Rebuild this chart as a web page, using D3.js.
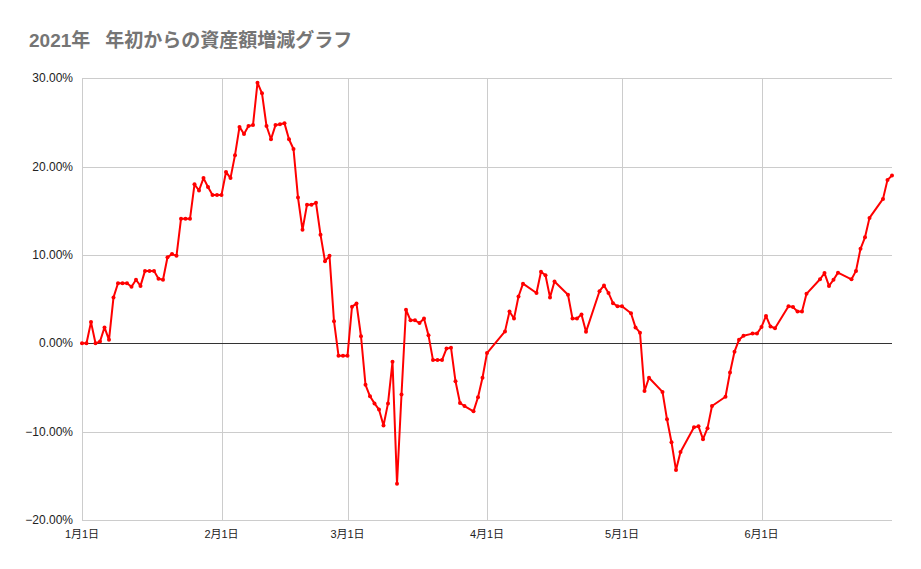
<!DOCTYPE html>
<html>
<head>
<meta charset="utf-8">
<script src="https://cdn.jsdelivr.net/npm/d3@7"></script>
<style>
  html, body { margin: 0; padding: 0; background: #fff; }
  svg { display: block; }
</style>
</head>
<body>
<svg id="chart" width="921" height="569"></svg>
<script>
const titleYear = "2021年";
const titleRest = "\u3000年初からの資産額増減グラフ";

const dates = [
  "2021-01-01","2021-01-02","2021-01-03","2021-01-04","2021-01-05","2021-01-06","2021-01-07","2021-01-08","2021-01-09","2021-01-10",
  "2021-01-11","2021-01-12","2021-01-13","2021-01-14","2021-01-15","2021-01-16","2021-01-17","2021-01-18","2021-01-19","2021-01-20",
  "2021-01-21","2021-01-22","2021-01-23","2021-01-24","2021-01-25","2021-01-26","2021-01-27","2021-01-28","2021-01-29","2021-01-30",
  "2021-01-31","2021-02-01","2021-02-02","2021-02-03","2021-02-04","2021-02-05","2021-02-06","2021-02-07","2021-02-08","2021-02-09",
  "2021-02-10","2021-02-11","2021-02-12","2021-02-13","2021-02-14","2021-02-15","2021-02-16","2021-02-17","2021-02-18","2021-02-19",
  "2021-02-20","2021-02-21","2021-02-22","2021-02-23","2021-02-24","2021-02-25","2021-02-26","2021-02-27","2021-02-28","2021-03-01",
  "2021-03-02","2021-03-03","2021-03-04","2021-03-05","2021-03-06","2021-03-07","2021-03-08","2021-03-09","2021-03-10","2021-03-11",
  "2021-03-12","2021-03-13","2021-03-14","2021-03-15","2021-03-16","2021-03-17","2021-03-18","2021-03-19","2021-03-20","2021-03-21",
  "2021-03-22","2021-03-23","2021-03-24","2021-03-25","2021-03-26","2021-03-27","2021-03-29","2021-03-30","2021-03-31","2021-04-01",
  "2021-04-05","2021-04-06","2021-04-07","2021-04-08","2021-04-09","2021-04-12","2021-04-13","2021-04-14","2021-04-15","2021-04-16",
  "2021-04-19","2021-04-20","2021-04-21","2021-04-22","2021-04-23","2021-04-26","2021-04-27","2021-04-28","2021-04-29","2021-04-30",
  "2021-05-01","2021-05-03","2021-05-04","2021-05-05","2021-05-06","2021-05-07","2021-05-10","2021-05-11","2021-05-12","2021-05-13",
  "2021-05-14","2021-05-17","2021-05-18","2021-05-19","2021-05-20","2021-05-21","2021-05-24","2021-05-25","2021-05-26","2021-05-27",
  "2021-05-28","2021-05-30","2021-05-31","2021-06-01","2021-06-02","2021-06-03","2021-06-04","2021-06-07","2021-06-08","2021-06-09",
  "2021-06-10","2021-06-11","2021-06-14","2021-06-15","2021-06-16","2021-06-17","2021-06-18","2021-06-21","2021-06-22","2021-06-23",
  "2021-06-24","2021-06-25","2021-06-28","2021-06-29","2021-06-30"
];

// percent change since start of year
const values = [
  0.0, 0.0, 2.4, 0.0, 0.2, 1.8, 0.4, 5.2, 6.8, 6.8,
  6.8, 6.4, 7.2, 6.5, 8.2, 8.2, 8.2, 7.3, 7.2, 9.75,
  10.1, 9.9, 14.1, 14.1, 14.1, 18.0, 17.3, 18.7, 17.7, 16.8,
  16.8, 16.8, 19.4, 18.7, 21.3, 24.5, 23.7, 24.6, 24.7, 29.5,
  28.3, 24.6, 23.1, 24.7, 24.8, 24.9, 23.1, 22.0, 16.5, 12.85,
  15.7, 15.7, 15.9, 12.3, 9.3, 9.9, 2.5, -1.4, -1.4, -1.4,
  4.15, 4.5, 0.8, -4.7, -6.0, -6.8, -7.5, -9.3, -6.8, -2.1,
  -15.9, -5.8, 3.8, 2.6, 2.6, 2.3, 2.8, 0.9, -1.9, -1.9,
  -1.9, -0.6, -0.5, -4.3, -6.75, -7.1, -7.7, -6.1, -3.9, -1.1,
  1.35, 3.6, 2.8, 5.3, 6.75, 5.7, 8.1, 7.7, 5.2, 7.0,
  5.5, 2.8, 2.8, 3.25, 1.3, 5.9, 6.55, 5.7, 4.55, 4.2,
  4.2, 3.4, 1.8, 1.2, -5.4, -3.9, -5.5, -8.6, -11.2, -14.35,
  -12.3, -9.5, -9.4, -10.85, -9.6, -7.1, -6.05, -3.3, -0.95, 0.4,
  0.85, 1.1, 1.1, 1.85, 3.1, 1.9, 1.7, 4.2, 4.1, 3.6,
  3.6, 5.6, 7.25, 7.95, 6.5, 7.2, 8.0, 7.25, 8.2, 10.7,
  12.0, 14.2, 16.35, 18.5, 19.0
];

const yTicks = [30, 20, 10, 0, -10, -20];
const xTickDates = ["2021-01-01","2021-02-01","2021-03-01","2021-04-01","2021-05-01","2021-06-01"];
const xDomain = ["2021-01-01","2021-06-30"];

const parse = d3.timeParse("%Y-%m-%d");
const data = dates.map((d, i) => ({ date: parse(d), value: values[i] }));

const svg = d3.select("#chart");
const plotLeft = 82, plotRight = 892, plotTop = 78.3, plotBottom = 520;

const x = d3.scaleTime().domain(xDomain.map(parse)).range([plotLeft, plotRight]);
const y = d3.scaleLinear().domain([-20, 30]).range([plotBottom, plotTop]);

const fontLatin = "'Liberation Sans', Arial, 'Noto Sans CJK JP', sans-serif";

// title
const t = svg.append("text")
  .attr("x", 29).attr("y", 47)
  .attr("font-family", fontLatin)
  .attr("font-size", 19).attr("font-weight", "bold")
  .attr("fill", "#757575");
t.append("tspan").text(titleYear);
t.append("tspan").attr("dx", -4).text(titleRest);

// horizontal gridlines
svg.append("g").selectAll("line").data(yTicks.filter(v => v !== 0)).join("line")
  .attr("x1", plotLeft).attr("x2", plotRight)
  .attr("y1", d => Math.round(y(d)) + 0.5).attr("y2", d => Math.round(y(d)) + 0.5)
  .attr("stroke", "#cccccc").attr("stroke-width", 1);

// vertical gridlines
svg.append("g").selectAll("line").data(xTickDates.map(parse)).join("line")
  .attr("x1", d => Math.round(x(d)) + 0.5).attr("x2", d => Math.round(x(d)) + 0.5)
  .attr("y1", plotTop).attr("y2", plotBottom)
  .attr("stroke", "#cccccc").attr("stroke-width", 1);

// zero line
svg.append("line")
  .attr("x1", plotLeft).attr("x2", plotRight)
  .attr("y1", Math.round(y(0)) + 0.5).attr("y2", Math.round(y(0)) + 0.5)
  .attr("stroke", "#333333").attr("stroke-width", 1);

// y labels
svg.append("g").selectAll("text").data(yTicks).join("text")
  .attr("x", 73).attr("y", d => y(d) + 4)
  .attr("text-anchor", "end")
  .attr("font-family", fontLatin).attr("font-size", 12)
  .attr("fill", "#222")
  .text(d => d3.format(".2f")(d) + "%");

// x labels
const monthFmt = d => (d.getMonth() + 1) + "月" + d.getDate() + "日";
svg.append("g").selectAll("text").data(xTickDates.map(parse)).join("text")
  .attr("x", d => x(d)).attr("y", 538)
  .attr("text-anchor", "middle")
  .attr("font-family", fontLatin).attr("font-size", 11)
  .attr("fill", "#222")
  .text(monthFmt);

// line
const line = d3.line().x(d => x(d.date)).y(d => y(d.value));
svg.append("path").datum(data)
  .attr("d", line)
  .attr("fill", "none").attr("stroke", "#ff0000")
  .attr("stroke-width", 2).attr("stroke-linejoin", "round");

svg.append("g").selectAll("circle").data(data).join("circle")
  .attr("cx", d => x(d.date)).attr("cy", d => y(d.value))
  .attr("r", 2).attr("fill", "#ff0000");
</script>
</body>
</html>
